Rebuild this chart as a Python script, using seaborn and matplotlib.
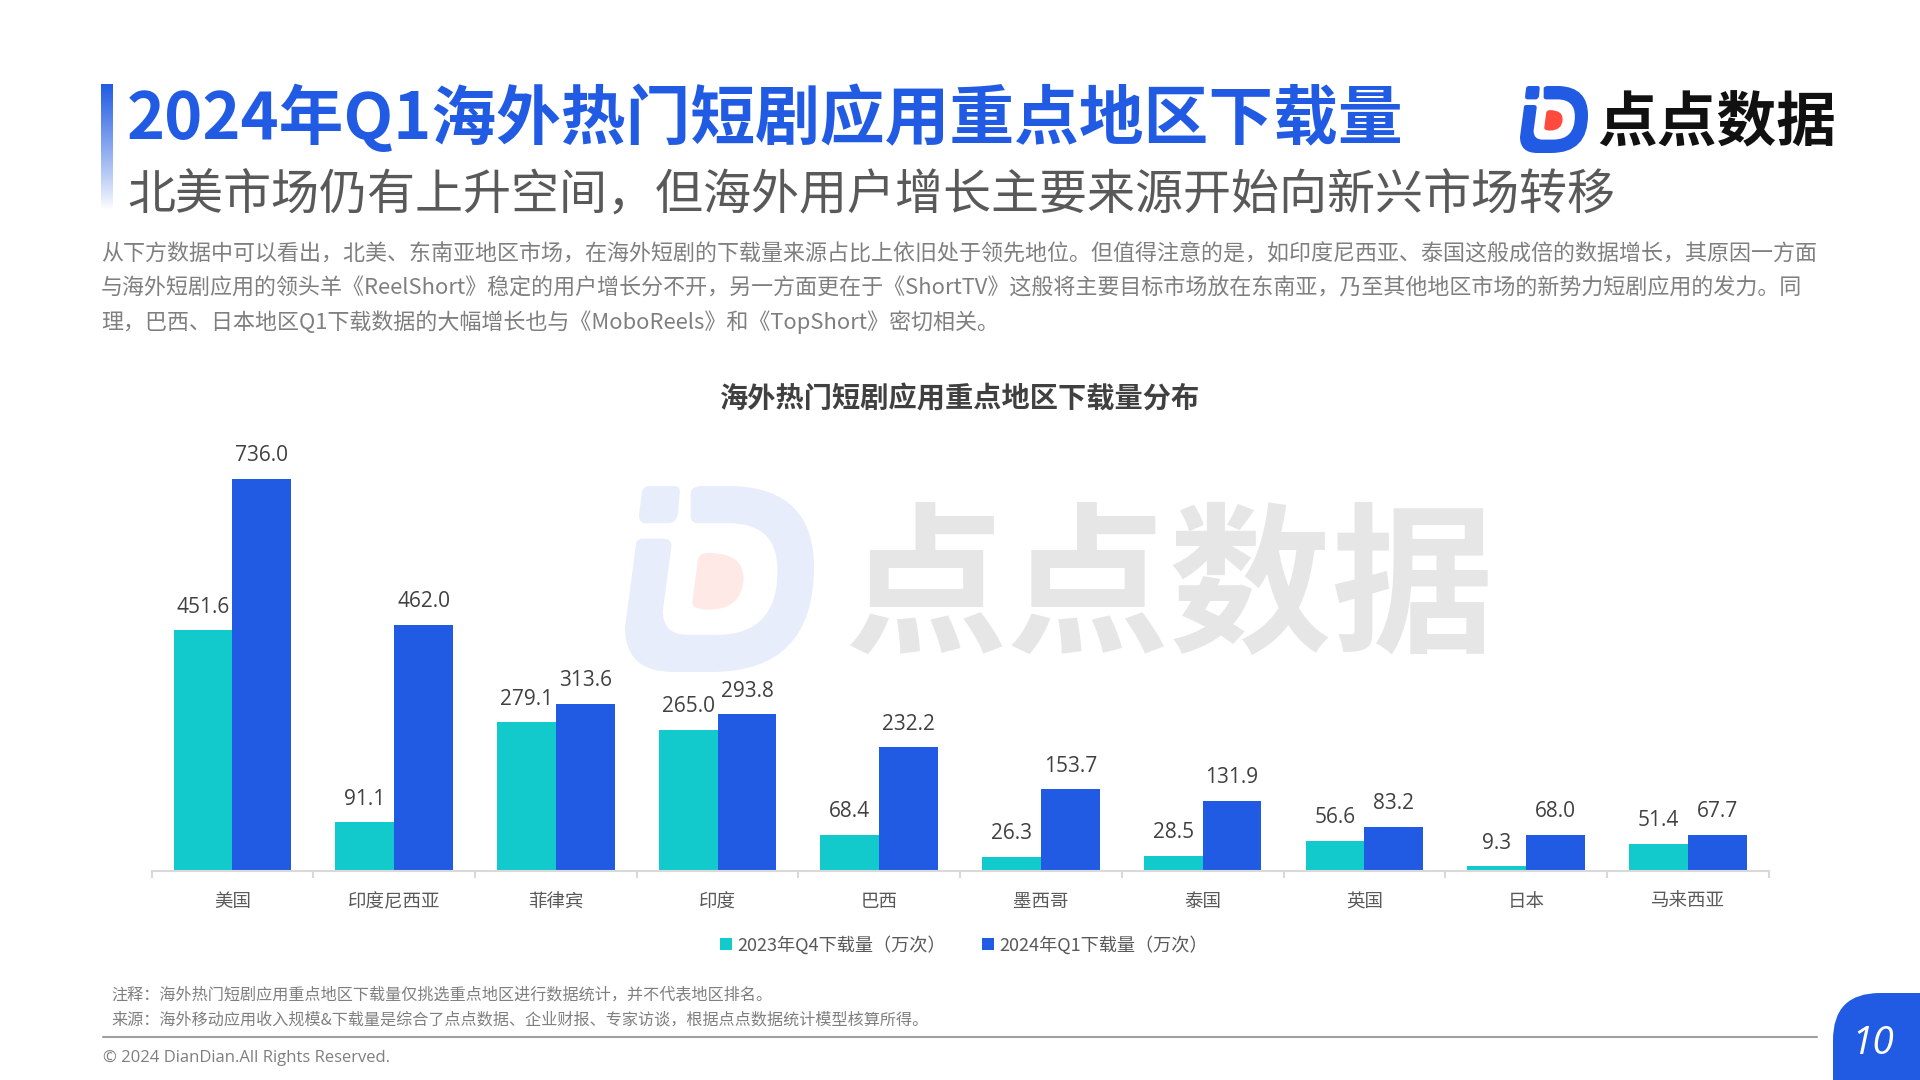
import numpy as np
import pandas as pd
import matplotlib.pyplot as plt
import seaborn as sns
from matplotlib.patches import PathPatch
from matplotlib.path import Path

# 数据
regioes = ['美国', '印度尼西亚', '菲律宾', '印度', '巴西', '墨西哥', '泰国', '英国', '日本', '马来西亚']
q4_2023 = [451.6, 91.1, 279.1, 265.0, 68.4, 26.3, 28.5, 56.6, 9.3, 51.4]
q1_2024 = [736.0, 462.0, 313.6, 293.8, 232.2, 153.7, 131.9, 83.2, 68.0, 67.7]
serie_q4 = '2023年Q4下载量（万次）'
serie_q1 = '2024年Q1下载量（万次）'

titulo = '2024年Q1海外热门短剧应用重点地区下载量'
subtitulo = '北美市场仍有上升空间，但海外用户增长主要来源开始向新兴市场转移'
corpo = [
    '从下方数据中可以看出，北美、东南亚地区市场，在海外短剧的下载量来源占比上依旧处于领先地位。但值得注意的是，如印度尼西亚、泰国这般成倍的数据增长，其原因一方面',
    '与海外短剧应用的领头羊《ReelShort》稳定的用户增长分不开，另一方面更在于《ShortTV》这般将主要目标市场放在东南亚，乃至其他地区市场的新势力短剧应用的发力。同',
    '理，巴西、日本地区Q1下载数据的大幅增长也与《MoboReels》和《TopShort》密切相关。',
]
titulo_grafico = '海外热门短剧应用重点地区下载量分布'
nota = '注释：海外热门短剧应用重点地区下载量仅挑选重点地区进行数据统计，并不代表地区排名。'
fonte = '来源：海外移动应用收入规模&下载量是综合了点点数据、企业财报、专家访谈，根据点点数据统计模型核算所得。'
direitos = '© 2024 DianDian.All Rights Reserved.'

AZUL = '#215BE3'
TEAL = '#12C9CB'

sns.set_theme(style='white')
plt.rcParams['font.family'] = ['Noto Sans CJK SC', 'DejaVu Sans']

fig = plt.figure(figsize=(19.2, 10.8), dpi=100, facecolor='white')

# Camada de fundo em pixels, para os textos e o logo
fundo = fig.add_axes([0, 0, 1, 1], zorder=0)
fundo.set_xlim(0, 1920)
fundo.set_ylim(1080, 0)
fundo.axis('off')


def desenha_logo(x0, y0, w, h, azul, vermelho):
    def px(pts):
        return [(x0 + u * w, y0 + v * h) for u, v in pts]
    C3, L = Path.CURVE3, Path.LINETO
    corpo_pts = [(.348, .03), (.36, 0), (.41, 0), (.58, 0), (1.0, .02), (1.0, .435), (1.0, 1.0),
                 (.457, 1.0), (.255, 1.0), (0, 1.0), (0, .76), (.06, .30), (.07, .283), (.10, .283),
                 (.20, .283), (.25, .283), (.245, .33), (.20, .67), (.20, .80), (.33, .80), (.487, .80),
                 (.807, .80), (.807, .453), (.807, .20), (.55, .20), (.39, .20), (.34, .20), (.348, .15),
                 (.348, .03)]
    corpo_cod = [Path.MOVETO, C3, C3, L, C3, C3, C3, C3, L, C3, C3, L, C3, C3, L, C3, C3, L, C3, C3,
                 L, C3, C3, C3, C3, L, C3, C3, L]
    fundo.add_patch(PathPatch(Path(px(corpo_pts), corpo_cod), fc=azul, ec='none'))
    ponto_pts = [(.09, .03), (.10, 0), (.13, 0), (.26, 0), (.29, 0), (.29, .03), (.28, .15), (.27, .20),
                 (.23, .20), (.11, .20), (.07, .20), (.075, .15), (.09, .03)]
    ponto_cod = [Path.MOVETO, C3, C3, L, C3, C3, L, C3, C3, L, C3, C3, L]
    fundo.add_patch(PathPatch(Path(px(ponto_pts), ponto_cod), fc=azul, ec='none'))
    verm_pts = [(.385, .40), (.39, .36), (.44, .36), (.63, .36), (.627, .50), (.62, .665), (.44, .665),
                (.35, .665), (.357, .62), (.385, .40)]
    verm_cod = [Path.MOVETO, C3, C3, C3, C3, C3, C3, C3, C3, L]
    fundo.add_patch(PathPatch(Path(px(verm_pts), verm_cod), fc=vermelho, ec='none'))


# Marca d'agua
desenha_logo(625, 486, 189, 186, '#E7EDFB', '#FEE9E7')
fundo.text(1169, 593, '点点数据', fontsize=117, fontweight='bold', color='#E6E6E6', ha='center', va='center')

# Logo do topo
desenha_logo(1520, 86, 68, 67, AZUL, '#FF4A3D')
fundo.text(1717, 124, '点点数据', fontsize=43, fontweight='bold', color='#111111', ha='center', va='center')

# Barra com degrade ao lado do titulo
grad = np.linspace(0, 1, 128).reshape(-1, 1)
cor_grad = np.ones((128, 1, 4))
cor_grad[..., :3] = (0x21 / 255, 0x5B / 255, 0xE3 / 255)
cor_grad[..., 3] = (1 - grad) ** 0.9
fundo.imshow(cor_grad, extent=(101, 113, 210, 84), aspect='auto', zorder=1)
fundo.set_xlim(0, 1920)
fundo.set_ylim(1080, 0)

fundo.text(127, 119, titulo, fontsize=46.6, fontweight='bold', color=AZUL, va='center')
fundo.text(127, 196, subtitulo, fontsize=34.6, color='#595959', va='center')
for i, linha in enumerate(corpo):
    fundo.text(101, 254.5 + i * 34, linha, fontsize=15.83, color='#7F7F7F', va='center')
fundo.text(959, 399, titulo_grafico, fontsize=20.3, fontweight='bold', color='#404040', ha='center', va='center')

fundo.text(111, 995, nota, fontsize=11.6, color='#7F7F7F', va='center')
fundo.text(111, 1020, fonte, fontsize=11.6, color='#7F7F7F', va='center')
fundo.plot([103, 1817], [1037, 1037], color='#A0A0A0', lw=1.5)
fundo.text(103, 1058, direitos, fontsize=12, family='Open Sans', color='#7F7F7F', va='center')

# Etiqueta do numero da pagina
cod = [Path.MOVETO, Path.LINETO, Path.CURVE3, Path.CURVE3, Path.LINETO, Path.LINETO, Path.CLOSEPOLY]
fundo.add_patch(PathPatch(Path([(1833, 1080), (1833, 1040), (1833, 993), (1880, 993), (1920, 993), (1920, 1080), (1833, 1080)], cod),
                          fc=AZUL, ec='none'))
fundo.text(1873, 1044, '10', fontsize=28, family='Open Sans', style='italic', color='white', ha='center', va='center')

# Grafico de barras
ax = fig.add_axes([151.6 / 1920, 1 - 871 / 1080, 1617 / 1920, 440 / 1080], zorder=2)
ax.patch.set_alpha(0)

df = pd.DataFrame({'regiao': regioes, serie_q4: q4_2023, serie_q1: q1_2024})
df_long = df.melt(id_vars='regiao', var_name='serie', value_name='valor')

sns.barplot(data=df_long, x='regiao', y='valor', hue='serie', palette=[TEAL, AZUL],
            width=0.727, gap=0, saturation=1, linewidth=0, ax=ax, legend=True)

for cont in ax.containers:
    ax.bar_label(cont, fmt='%.1f', padding=9, fontsize=15, family='Open Sans', color='#404040')

ax.set_xlim(-0.5, len(regioes) - 0.5)
ax.set_ylim(0, 826)
ax.set_xlabel('')
ax.set_ylabel('')
ax.set_yticks([])
ax.tick_params(axis='x', which='major', length=0, pad=16, labelsize=13.3, labelcolor='#595959')
ax.set_xticks(np.arange(len(regioes) + 1) - 0.5, minor=True)
ax.tick_params(axis='x', which='minor', length=5, width=1.5, color='#D9D9D9', bottom=True)
sns.despine(ax=ax, left=True)
ax.spines['bottom'].set_color('#D9D9D9')
ax.spines['bottom'].set_linewidth(1.5)

handles, labels = ax.get_legend_handles_labels()
ax.legend(handles, labels, loc='center', bbox_to_anchor=(964 / 1920, 1 - 945 / 1080), bbox_transform=fig.transFigure,
          ncol=2, frameon=False, fontsize=13.1, labelcolor='#595959', handlelength=0.65, handleheight=0.65,
          handletextpad=0.3, columnspacing=2.0)

fig.savefig('out.png', dpi=100)
